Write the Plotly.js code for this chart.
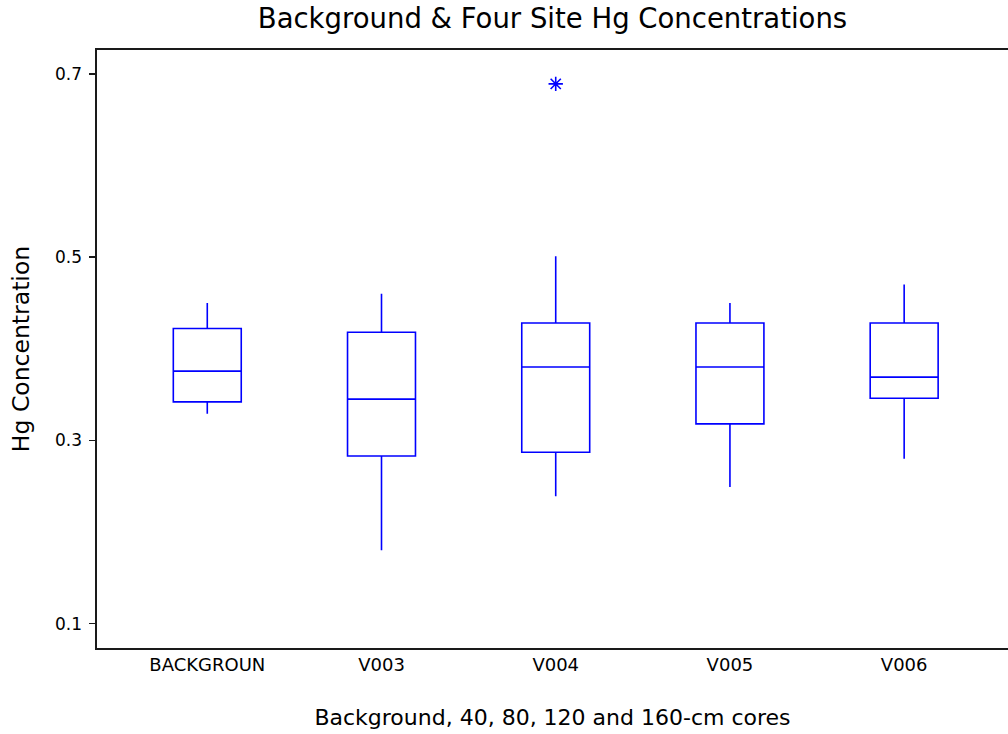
<!DOCTYPE html>
<html>
<head>
<meta charset="utf-8">
<script src="https://cdn.plot.ly/plotly-3.0.1.min.js"></script>
<style>html,body{margin:0;padding:0;background:#fff;}#chart{width:1008px;height:734px;}</style>
</head>
<body>
<div id="chart"></div>
<script>
var categories = ["BACKGROUN", "V003", "V004", "V005", "V006"];
var lowerWhisker = [0.329, 0.180, 0.239, 0.249, 0.280];
var q1Values = [0.342, 0.283, 0.287, 0.318, 0.346];
var medianValues = [0.3756, 0.345, 0.380, 0.380, 0.369];
var q3Values = [0.422, 0.418, 0.428, 0.428, 0.428];
var upperWhisker = [0.450, 0.460, 0.501, 0.450, 0.470];
var outlierCategory = ["V004"];
var outlierValue = [0.689];
var yTicks = [0.1, 0.3, 0.5, 0.7];

var blue = "#0000ff";
var traces = [
  {
    type: "box",
    x: categories,
    lowerfence: lowerWhisker,
    q1: q1Values,
    median: medianValues,
    q3: q3Values,
    upperfence: upperWhisker,
    width: 0.39,
    fillcolor: "rgba(0,0,0,0)",
    line: {color: blue, width: 1.6},
    whiskerwidth: 0,
    boxpoints: false,
    hoverinfo: "skip",
    showlegend: false
  },
  {
    type: "scatter",
    mode: "markers",
    x: outlierCategory,
    y: outlierValue,
    marker: {symbol: "asterisk-open", size: 12, color: blue, line: {color: blue, width: 1.6}},
    showlegend: false,
    hoverinfo: "skip"
  }
];

var layout = {
  width: 1008,
  height: 734,
  margin: {l: 97, r: 0, t: 50, b: 86},
  paper_bgcolor: "#ffffff",
  plot_bgcolor: "#ffffff",
  font: {family: "DejaVu Sans, Verdana, sans-serif", color: "#000"},
  title: {
    text: "Background &amp; Four Site Hg Concentrations",
    font: {size: 27.5, color: "#000"},
    x: 0.5, xanchor: "center", xref: "paper",
    y: 0.975, yanchor: "middle", yref: "container"
  },
  xaxis: {
    type: "category",
    categoryorder: "array",
    categoryarray: categories,
    range: [-0.633, 4.596],
    showline: true,
    linecolor: "#1a1a1a",
    linewidth: 1.6,
    mirror: true,
    ticks: "",
    showgrid: false,
    zeroline: false,
    tickfont: {size: 18, color: "#000"},
    ticklabelstandoff: 0,
    title: {text: "Background, 40, 80, 120 and 160-cm cores", font: {size: 22, color: "#000"}, standoff: 35},
    fixedrange: true
  },
  yaxis: {
    range: [0.0734, 0.726],
    tickvals: yTicks,
    ticktext: yTicks.map(function(v){return String(v);}),
    showline: true,
    linecolor: "#1a1a1a",
    linewidth: 1.6,
    mirror: false,
    ticks: "outside",
    ticklen: 6,
    tickwidth: 1.4,
    tickcolor: "#1a1a1a",
    showgrid: false,
    zeroline: false,
    tickfont: {size: 17, color: "#000"},
    ticklabelstandoff: 4,
    title: {text: "Hg Concentration", font: {size: 23.5, color: "#000"}, standoff: 19},
    fixedrange: true
  }
};

Plotly.newPlot("chart", traces, layout, {displayModeBar: false, staticPlot: true});
</script>
</body>
</html>
